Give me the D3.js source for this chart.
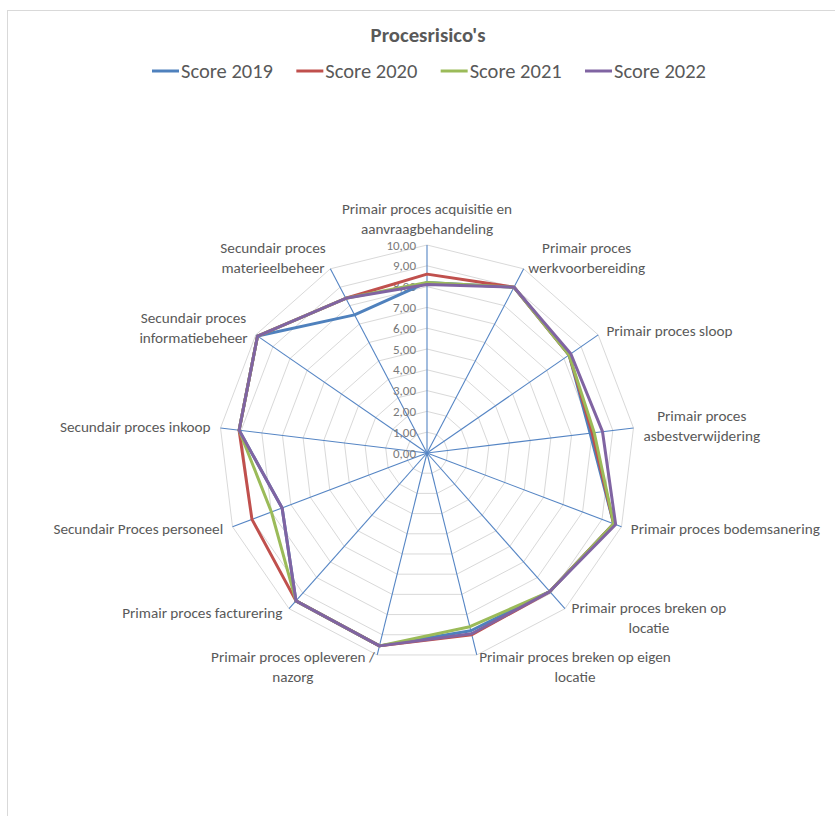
<!DOCTYPE html>
<html>
<head>
<meta charset="utf-8">
<script src="https://cdn.jsdelivr.net/npm/d3@7"></script>
<style>
  html, body { margin: 0; padding: 0; background: #ffffff; }
  svg { display: block; }
  text { font-family: Carlito, Calibri, Lato, "Open Sans", sans-serif; }
</style>
</head>
<body>
<svg id="chart" width="835" height="816"></svg>
<script>
const title = "Procesrisico's";
const categories = [
  ["Primair proces acquisitie en", "aanvraagbehandeling"],
  ["Primair proces", "werkvoorbereiding"],
  ["Primair proces sloop"],
  ["Primair proces", "asbestverwijdering"],
  ["Primair proces bodemsanering"],
  ["Primair proces breken op", "locatie"],
  ["Primair proces breken op eigen", "locatie"],
  ["Primair proces opleveren /", "nazorg"],
  ["Primair proces facturering"],
  ["Secundair Proces personeel"],
  ["Secundair proces inkoop"],
  ["Secundair proces", "informatiebeheer"],
  ["Secundair proces", "materieelbeheer"]
];
const seriesNames = ["Score 2019", "Score 2020", "Score 2021", "Score 2022"];
const score2019 = [8.2, 9.0, 8.3, 7.9, 9.6, 8.9, 8.8, 9.55, 9.5, 7.45, 9.1, 9.9, 7.5];
const score2020 = [8.6, 9.0, 8.3, 8.0, 9.6, 8.9, 9.0, 9.55, 9.5, 9.0, 9.1, 9.9, 8.4];
const score2021 = [8.2, 9.0, 8.3, 8.1, 9.6, 8.9, 8.6, 9.55, 9.5, 8.0, 9.1, 9.9, 8.4];
const score2022 = [8.1, 9.0, 8.4, 8.5, 9.7, 8.9, 8.95, 9.55, 9.5, 7.45, 9.1, 9.9, 8.4];
const tickValues = [0, 1, 2, 3, 4, 5, 6, 7, 8, 9, 10];
const colors = ["#4F81BD", "#C0504D", "#9BBB59", "#8064A2"];

const allSeries = [score2019, score2020, score2021, score2022];

const svg = d3.select("#chart");
const cx = 427, cy = 453, R = 208;
const N = categories.length;
const textColor = "#595959";

// chart border
svg.append("rect")
  .attr("x", 7.5).attr("y", 10.5)
  .attr("width", 1000).attr("height", 1000)
  .attr("fill", "none").attr("stroke", "#d9d9d9").attr("stroke-width", 1);

const r = d3.scaleLinear().domain([0, 10]).range([0, R]);
const angle = d3.scaleLinear().domain([0, N]).range([0, 2 * Math.PI]);

const pt = (i, v) => {
  const a = angle(i);
  return [cx + r(v) * Math.sin(a), cy - r(v) * Math.cos(a)];
};

const g = svg.append("g");

// gridlines (polygons)
tickValues.filter(v => v > 0).forEach(v => {
  const pts = d3.range(N).map(i => pt(i, v));
  g.append("path")
    .attr("d", d3.line()(pts) + "Z")
    .attr("fill", "none")
    .attr("stroke", "#d9d9d9")
    .attr("stroke-width", 1);
});

// radial axes
d3.range(N).forEach(i => {
  const [x, y] = pt(i, 10);
  g.append("line")
    .attr("x1", cx).attr("y1", cy).attr("x2", x).attr("y2", y)
    .attr("stroke", "#5585C4").attr("stroke-width", 1.1);
});

// tick labels
tickValues.forEach(v => {
  g.append("text")
    .attr("x", cx - 11)
    .attr("y", cy - r(v))
    .attr("text-anchor", "end")
    .attr("dominant-baseline", "central")
    .attr("font-size", 13)
    .attr("fill", "#7a7a7a")
    .text(d3.format(".2f")(v).replace(".", ","));
});

// series
const lineGen = d3.line().curve(d3.curveLinearClosed);
allSeries.forEach((vals, si) => {
  g.append("path")
    .attr("d", lineGen(vals.map((v, i) => pt(i, v))))
    .attr("fill", "none")
    .attr("stroke", colors[si])
    .attr("stroke-width", 3)
    .attr("stroke-linejoin", "round");
});

// category labels
const lh = 20;
categories.forEach((lines, i) => {
  const a = angle(i);
  const s = Math.sin(a), c = Math.cos(a);
  const [ex, ey] = pt(i, 10);
  const t = g.append("text")
    .attr("font-size", 15.2)
    .attr("fill", textColor)
    .attr("text-anchor", "middle");
  const spans = lines.map(l => t.append("tspan").text(l));
  const w = d3.max(spans, sp => sp.node().getComputedTextLength());
  const h = lines.length * lh;
  let bx, by;
  if (Math.abs(s) < 0.15) {
    bx = ex;
    by = ey - c * (h / 2 + 6);
  } else {
    bx = ex + 10 * s + (s > 0 ? w / 2 : -w / 2);
    by = ey - c * h * 0.3;
  }
  spans.forEach((sp, k) => {
    sp.attr("x", bx)
      .attr("y", by - h / 2 + lh * (k + 0.5))
      .attr("dominant-baseline", "central");
  });
});

// title
svg.append("text")
  .attr("x", 428).attr("y", 35)
  .attr("text-anchor", "middle")
  .attr("dominant-baseline", "central")
  .attr("font-size", 20.8)
  .attr("font-weight", "bold")
  .attr("fill", textColor)
  .text(title);

// legend
const legendX = d3.scalePoint().domain(seriesNames).range([152, 585]);
seriesNames.forEach((name, si) => {
  const x0 = legendX(name);
  const lg = svg.append("g");
  lg.append("line")
    .attr("x1", x0).attr("x2", x0 + 27)
    .attr("y1", 71).attr("y2", 71)
    .attr("stroke", colors[si]).attr("stroke-width", 3);
  lg.append("text")
    .attr("x", x0 + 29).attr("y", 71)
    .attr("dominant-baseline", "central")
    .attr("font-size", 20.5)
    .attr("fill", textColor)
    .text(name);
});
</script>
</body>
</html>
